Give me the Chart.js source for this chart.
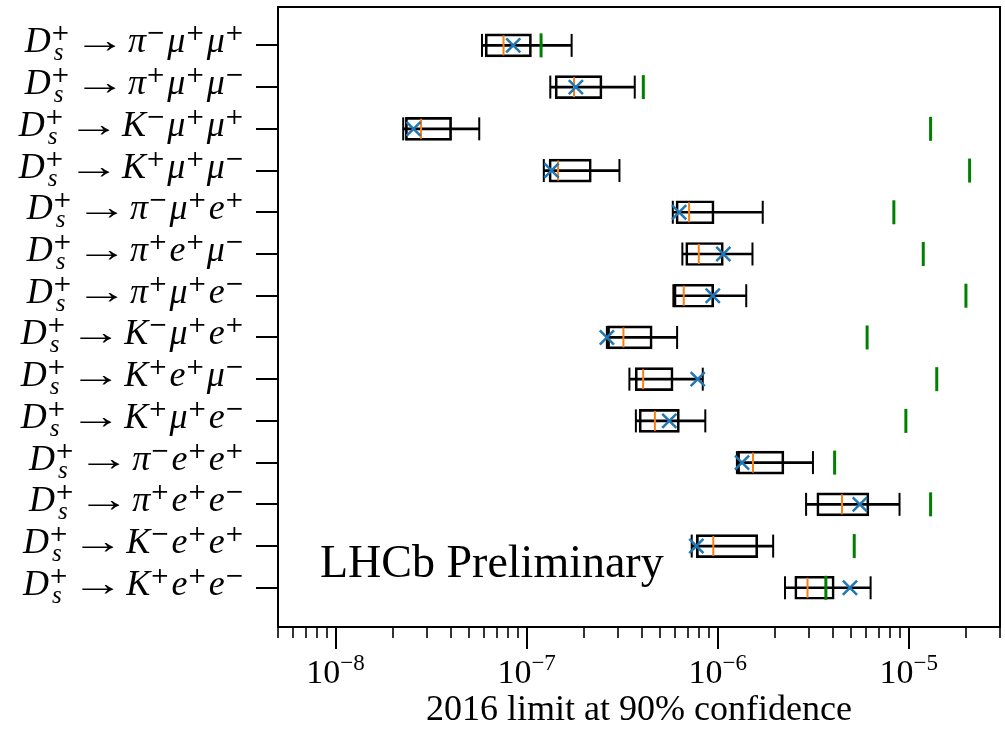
<!DOCTYPE html>
<html>
<head>
<meta charset="utf-8">
<title>Ds LFV limits</title>
<script src="https://cdn.jsdelivr.net/npm/chart.js@4.4.1/dist/chart.umd.min.js"></script>
<style>
  html, body { margin: 0; padding: 0; background: #fff; overflow: hidden; }
  #grafico { display: block; }
</style>
</head>
<body>
<canvas id="grafico" width="1005" height="729"></canvas>
<script>
// Channels, top to bottom (^ = superscript, _ = subscript)
const channels = [
    'D_s^+ → π^-μ^+μ^+',
    'D_s^+ → π^+μ^+μ^-',
    'D_s^+ → K^-μ^+μ^+',
    'D_s^+ → K^+μ^+μ^-',
    'D_s^+ → π^-μ^+e^+',
    'D_s^+ → π^+e^+μ^-',
    'D_s^+ → π^+μ^+e^-',
    'D_s^+ → K^-μ^+e^+',
    'D_s^+ → K^+e^+μ^-',
    'D_s^+ → K^+μ^+e^-',
    'D_s^+ → π^-e^+e^+',
    'D_s^+ → π^+e^+e^-',
    'D_s^+ → K^-e^+e^+',
    'D_s^+ → K^+e^+e^-'
];
const positions = channels.map((c, i) => i + 1);

// Expected limits: whisker ends, box edges and median
const low    = [5.84e-8, 1.33e-7, 2.26e-8, 1.23e-7, 5.82e-7, 6.53e-7, 5.86e-7, 2.63e-7, 3.45e-7, 3.73e-7, 1.26e-6, 2.90e-6, 7.31e-7, 2.25e-6];
const q1     = [6.07e-8, 1.41e-7, 2.32e-8, 1.31e-7, 6.05e-7, 6.80e-7, 5.90e-7, 2.65e-7, 3.70e-7, 3.88e-7, 1.27e-6, 3.30e-6, 7.73e-7, 2.53e-6];
const median = [7.57e-8, 1.77e-7, 2.80e-8, 1.46e-7, 7.08e-7, 7.96e-7, 6.64e-7, 3.21e-7, 4.07e-7, 4.69e-7, 1.53e-6, 4.47e-6, 9.48e-7, 2.95e-6];
const q3     = [1.06e-7, 2.48e-7, 4.05e-8, 2.18e-7, 9.57e-7, 1.07e-6, 9.53e-7, 4.54e-7, 5.84e-7, 6.30e-7, 2.22e-6, 6.18e-6, 1.62e-6, 4.07e-6];
const high   = [1.72e-7, 3.68e-7, 5.65e-8, 3.06e-7, 1.72e-6, 1.52e-6, 1.41e-6, 6.13e-7, 8.35e-7, 8.61e-7, 3.15e-6, 8.94e-6, 1.95e-6, 6.31e-6];

// Observed limit (blue cross) and 2016 limit (green tick)
const observed  = [8.51e-8, 1.81e-7, 2.56e-8, 1.35e-7, 6.28e-7, 1.07e-6, 9.42e-7, 2.63e-7, 7.86e-7, 5.58e-7, 1.34e-6, 5.54e-6, 7.73e-7, 4.92e-6];
const limit2016 = [1.19e-7, 4.08e-7, 1.30e-5, 2.08e-5, 8.35e-6, 1.19e-5, 1.99e-5, 6.05e-6, 1.40e-5, 9.65e-6, 4.09e-6, 1.30e-5, 5.18e-6, 3.68e-6];

// x axis
const xExponents = [-8, -7, -6, -5];
const xMin = 5e-9;
const xMax = 3e-5;
const xTitle = '2016 limit at 90% confidence';
const stamp = 'LHCb Preliminary';

const serif = '"Liberation Serif", "Times New Roman", serif';
const symbols = '"DejaVu Serif", serif';
const arrowStretch = 1.45;
const arrowSlot = 56;

const pts = arr => positions.map((p, i) => ({ x: arr[i], y: p }));

// splits 'D_s^+ → π^-' into glyphs with their scripts
function parseLabel(str) {
    const parts = [];
    for (let i = 0; i < str.length; i++) {
        const c = str[i];
        if (c === ' ') continue;
        if (c === '_') { parts[parts.length - 1].sub = str[++i]; continue; }
        if (c === '^') { parts[parts.length - 1].sup = str[++i] === '-' ? '−' : str[i]; continue; }
        parts.push({ base: c });
    }
    return parts;
}

function drawMath(ctx, label, right, baseline) {
    const parts = parseLabel(label).map(p => {
        if (p.base === '→') return { ...p, w: arrowSlot };
        ctx.font = 'italic 36px ' + serif;
        const wb = ctx.measureText(p.base).width;
        ctx.font = '23px ' + symbols;
        const wsup = p.sup ? ctx.measureText(p.sup).width : 0;
        ctx.font = 'italic 25px ' + serif;
        const wsub = p.sub ? ctx.measureText(p.sub).width + 3 : 0;
        return { ...p, wb, w: wb + Math.max(wsup, wsub) + 2 };
    });
    let x = right - parts.reduce((s, p) => s + p.w, 0);
    ctx.textBaseline = 'alphabetic';
    parts.forEach(p => {
        if (p.base === '→') {
            ctx.font = '36px ' + serif;
            ctx.textAlign = 'center';
            ctx.save();
            ctx.translate(x + arrowSlot / 2, baseline);
            ctx.scale(arrowStretch, 1);
            ctx.fillText('→', 0, 0);
            ctx.restore();
        } else {
            ctx.textAlign = 'left';
            ctx.font = 'italic 36px ' + serif;
            ctx.fillText(p.base, x, baseline);
            if (p.sup) {
                ctx.font = '23px ' + symbols;
                ctx.fillText(p.sup, x + p.wb, baseline - 12);
            }
            if (p.sub) {
                ctx.font = 'italic 25px ' + serif;
                ctx.fillText(p.sub, x + p.wb + 3, baseline + 8);
            }
        }
        x += p.w;
    });
}

// frame, tick marks and labels
const axesPlugin = {
    id: 'axesPlugin',
    afterDatasetsDraw(chart) {
        const { ctx, chartArea: a, scales: { x, y } } = chart;
        ctx.save();
        ctx.strokeStyle = '#000';
        ctx.fillStyle = '#000';

        x.ticks.forEach(t => {
            const px = Math.round(x.getPixelForValue(t.value));
            ctx.lineWidth = t.major ? 2 : 1.6;
            ctx.beginPath();
            ctx.moveTo(px, a.bottom);
            ctx.lineTo(px, a.bottom + (t.major ? 22 : 11));
            ctx.stroke();
        });

        ctx.lineWidth = 2;
        ctx.strokeRect(a.left, a.top, a.right - a.left, a.bottom - a.top);

        // 10^n labels
        xExponents.forEach(e => {
            const px = x.getPixelForValue(Math.pow(10, e));
            ctx.font = '34px ' + serif;
            const w1 = ctx.measureText('10').width;
            ctx.font = '23px ' + serif;
            const sup = '−' + Math.abs(e);
            const w2 = ctx.measureText(sup).width;
            const x0 = px - (w1 + w2) / 2;
            ctx.textAlign = 'left';
            ctx.textBaseline = 'alphabetic';
            ctx.font = '34px ' + serif;
            ctx.fillText('10', x0, a.bottom + 56);
            ctx.font = '23px ' + serif;
            ctx.fillText(sup, x0 + w1, a.bottom + 43);
        });

        channels.forEach((c, i) => {
            const py = y.getPixelForValue(positions[i]);
            drawMath(ctx, c, a.left - 32, py + 7);
        });

        ctx.font = '46px ' + serif;
        ctx.textAlign = 'left';
        ctx.fillText(stamp, a.left + 42, a.top + 0.919 * (a.bottom - a.top));
        ctx.restore();
    }
};

const ctx = document.getElementById('grafico');
new Chart(ctx, {
    type: 'bar',
    data: {
        datasets: [
            {
                // whisker line, min to max
                type: 'bar',
                indexAxis: 'y',
                grouped: false,
                data: positions.map((p, i) => ({ x: [low[i], high[i]], y: p })),
                backgroundColor: '#000',
                borderWidth: 0,
                barThickness: 2,
                order: 6
            },
            {
                // box, first to third quartile
                type: 'bar',
                indexAxis: 'y',
                grouped: false,
                data: positions.map((p, i) => ({ x: [q1[i], q3[i]], y: p })),
                backgroundColor: 'rgba(0,0,0,0)',
                borderColor: '#000',
                borderWidth: 2,
                borderSkipped: false,
                barThickness: 23,
                order: 5
            },
            {
                // whisker caps
                type: 'scatter',
                data: pts(low).concat(pts(high)),
                pointStyle: 'line',
                pointRotation: 90,
                pointRadius: 11.5,
                pointBorderWidth: 2,
                borderColor: '#000',
                order: 4
            },
            {
                type: 'scatter',
                data: pts(median),
                pointStyle: 'line',
                pointRotation: 90,
                pointRadius: 10,
                pointBorderWidth: 2,
                borderColor: '#ff7f0e',
                order: 3
            },
            {
                type: 'scatter',
                data: pts(limit2016),
                pointStyle: 'line',
                pointRotation: 90,
                pointRadius: 12,
                pointBorderWidth: 3,
                borderColor: '#008000',
                order: 2
            },
            {
                type: 'scatter',
                data: pts(observed),
                pointStyle: 'crossRot',
                pointRadius: 10,
                pointBorderWidth: 2.5,
                borderColor: '#1f77b4',
                order: 1
            }
        ]
    },
    options: {
        responsive: false,
        animation: false,
        events: [],
        layout: { autoPadding: false, padding: { top: 7, right: 5, left: 0, bottom: 0 } },
        plugins: { legend: { display: false }, tooltip: { enabled: false } },
        scales: {
            x: {
                type: 'logarithmic',
                position: 'bottom',
                min: xMin,
                max: xMax,
                offset: false,
                grid: { display: false },
                border: { display: false },
                ticks: { display: false },
                afterBuildTicks(scale) {
                    const ticks = [];
                    for (let e = -9; e <= -5; e++) {
                        for (let m = 1; m <= 9; m++) {
                            const v = m * Math.pow(10, e);
                            if (v >= xMin * 0.999 && v <= xMax * 1.001) ticks.push({ value: v, major: m === 1 });
                        }
                    }
                    scale.ticks = ticks;
                },
                afterFit(scale) { scale.height = 102; },
                title: {
                    display: true,
                    text: xTitle,
                    color: '#000',
                    font: { family: serif, size: 36, lineHeight: 1 },
                    padding: { top: 0, bottom: 0 }
                }
            },
            y: {
                type: 'linear',
                reverse: true,
                min: 0.08,
                max: 14.94,
                offset: false,
                border: { display: false },
                grid: { offset: false, drawOnChartArea: false, drawTicks: true, tickLength: 22, color: '#000', lineWidth: 2 },
                ticks: { display: false },
                afterBuildTicks(scale) {
                    scale.ticks = positions.map(p => ({ value: p }));
                },
                afterFit(scale) { scale.width = 278; }
            }
        }
    },
    plugins: [axesPlugin]
});
</script>
</body>
</html>
